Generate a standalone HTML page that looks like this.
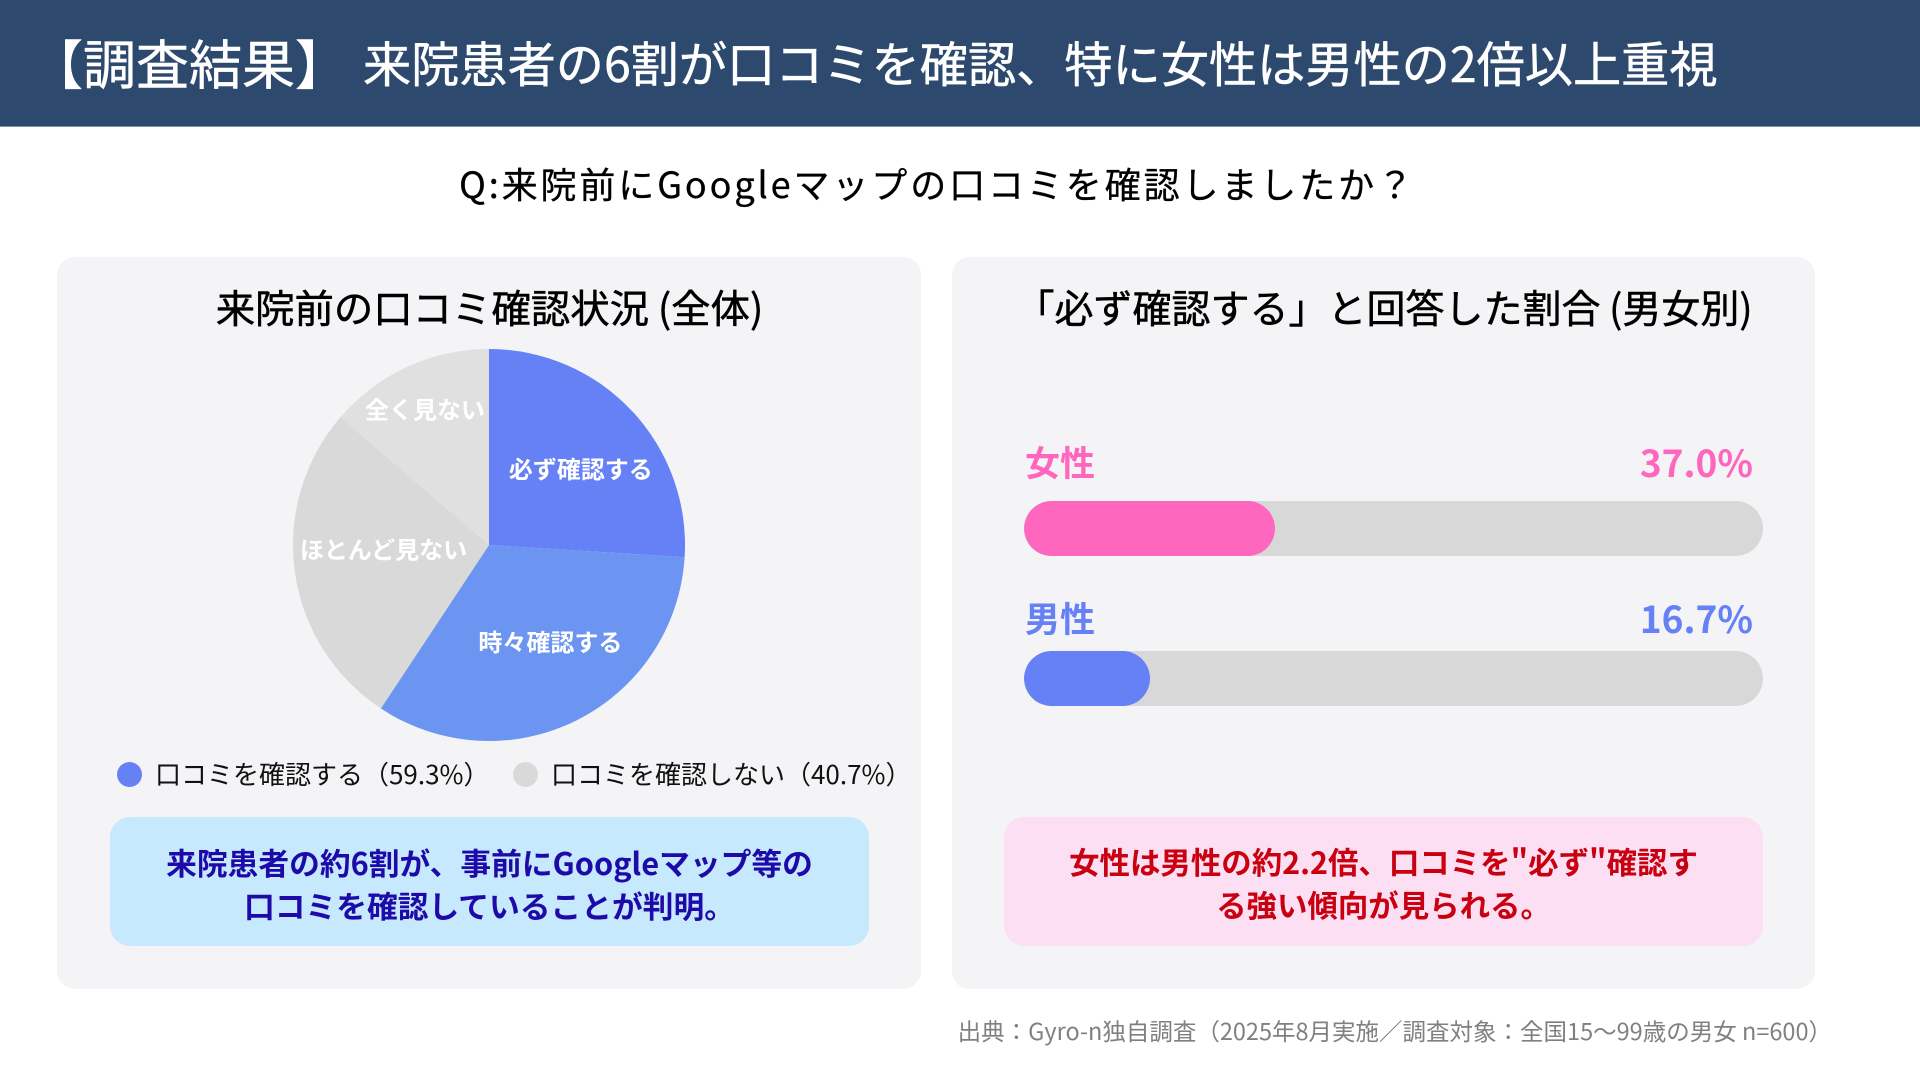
<!DOCTYPE html>
<html lang="ja">
<head>
<meta charset="utf-8">
<title>調査結果</title>
<style>
html,body{margin:0;padding:0;background:#fff}
body{width:1920px;height:1080px;overflow:hidden;position:relative;font-family:"Noto Sans CJK JP","Liberation Sans",sans-serif;color:#000}
.abs{position:absolute;white-space:nowrap}
.c{text-align:center}
#header{left:0;top:0;width:1920px;height:126px;background:#2d4a6e;border-bottom:1px solid #7f93ab}
.panel{position:absolute;top:257px;height:732px;background:#f4f4f7;border-radius:18px}
.track{position:absolute;height:55px;left:1024px;width:739px;background:#d8d8d8;border-radius:28px;overflow:hidden}
.fill{position:absolute;left:0;top:0;height:55px;border-radius:28px}
.note{position:absolute;top:817px;height:129px;border-radius:20px}
.notetext{font-weight:700;line-height:43px;text-align:center;left:0;right:0;top:23px;position:absolute}
.dot{position:absolute;width:25px;height:25px;border-radius:50%;top:762px}
.leg{font-size:26px;top:755px;line-height:37px;color:#111}
.medium{-webkit-text-stroke:.5px currentColor}
</style>
</head>
<body>
<div id="header" class="abs"></div>
<div class="abs medium" style="left:30px;top:26px;font-size:53px;line-height:72px;color:#fff">【調査結果】</div>
<div class="abs medium" style="left:363px;top:25.5px;font-size:48.2px;line-height:70px;color:#fff">来院患者の6割が口コミを確認、特に女性は男性の2倍以上重視</div>
<div class="abs c" style="left:0;width:1875px;top:157px;font-size:36px;line-height:52px;letter-spacing:2.9px;-webkit-text-stroke:.3px #000">Q:来院前にGoogleマップの口コミを確認しましたか？</div>

<div class="panel" style="left:57px;width:864px"></div>
<div class="panel" style="left:952px;width:863px"></div>

<div class="abs c medium" style="left:58px;width:863px;top:280.5px;font-size:39.4px;line-height:52px">来院前の口コミ確認状況 (全体)</div>
<div class="abs c medium" style="left:953px;width:862px;top:280.5px;font-size:39px;line-height:52px">「必ず確認する」と回答した割合 (男女別)</div>

<svg id="pie" class="abs" style="left:0;top:0" width="1920" height="1080"></svg>

<div class="dot" style="left:117px;background:#6680f5"></div>
<div class="abs leg" style="left:155px">口コミを確認する（59.3%）</div>
<div class="dot" style="left:513px;background:#d9d9d9"></div>
<div class="abs leg" style="left:551px">口コミを確認しない（40.7%）</div>

<div class="note" style="left:110px;width:759px;background:#c6e9fe">
  <div class="notetext" style="color:#1e0aa8;font-size:30.75px">来院患者の約6割が、事前にGoogleマップ等の<br>口コミを確認していることが判明。</div>
</div>
<div class="note" style="left:1004px;width:759px;background:#fddff3">
  <div class="notetext" style="color:#c8000f;font-size:30.45px">女性は男性の約2.2倍、口コミを"必ず"確認す<br>る強い傾向が見られる。</div>
</div>

<div id="bars"></div>

<div class="abs" style="right:88px;top:1013px;font-size:23.5px;line-height:34px;color:#808080">出典：Gyro-n独自調査（2025年8月実施／調査対象：全国15〜99歳の男女 n=600）</div>

<script>
const pieCategories = ['必ず確認する', '時々確認する', 'ほとんど見ない', '全く見ない'];
const pieValues = [26.0, 33.3, 27.0, 13.7];
const barCategories = ['女性', '男性'];
const barPrintedValues = ['37.0%', '16.7%'];
const barFillPercents = [33.9, 17.05];

const pieColors = ['#6680f5', '#6b95f0', '#d9d9d9', '#e0e0e0'];
const pieLabelNudgeX = [6, 9, 11, -15];
const pieLabelNudgeY = [3, -10, -13, -30];
const barColors = ['#ff66bd', '#6680f5'];
const barRows = [{labelTop: 437, trackTop: 501}, {labelTop: 593, trackTop: 651}];

const NS = 'http://www.w3.org/2000/svg';
const cx = 489, cy = 545, r = 196;
const total = pieValues.reduce((a, b) => a + b, 0);
const angleOf = v => v / total * 2 * Math.PI;
const px = (a, k) => cx + Math.sin(a) * r * k;
const py = (a, k) => cy - Math.cos(a) * r * k;

const pie = document.getElementById('pie');
let start = 0;
pieValues.forEach((v, i) => {
  const end = start + angleOf(v);
  const large = end - start > Math.PI ? 1 : 0;
  const p = document.createElementNS(NS, 'path');
  p.setAttribute('d', `M${cx} ${cy}L${px(start, 1)} ${py(start, 1)}A${r} ${r} 0 ${large} 1 ${px(end, 1)} ${py(end, 1)}Z`);
  p.setAttribute('fill', pieColors[i]);
  
  
  pie.appendChild(p);
  start = end;
});
start = 0;
pieValues.forEach((v, i) => {
  const mid = start + angleOf(v) / 2;
  const t = document.createElementNS(NS, 'text');
  t.setAttribute('x', px(mid, 0.6) + pieLabelNudgeX[i]);
  t.setAttribute('y', py(mid, 0.6) + pieLabelNudgeY[i]);
  t.setAttribute('text-anchor', 'middle');
  t.setAttribute('dominant-baseline', 'central');
  t.setAttribute('fill', '#fff');
  t.setAttribute('font-size', '24');
  t.setAttribute('font-weight', '700');
  t.textContent = pieCategories[i];
  
  
  pie.appendChild(t);
  start += angleOf(v);
});

const bars = document.getElementById('bars');
barCategories.forEach((name, i) => {
  const row = barRows[i];
  const label = document.createElement('div');
  label.className = 'abs';
  label.style.cssText = `left:1025px;top:${row.labelTop}px;font-size:35px;font-weight:700;line-height:50px;color:${barColors[i]}`;
  label.textContent = name;
  
  
  bars.appendChild(label);

  const val = document.createElement('div');
  val.className = 'abs';
  val.style.cssText = `right:167px;top:${row.labelTop - 1}px;font-size:37px;font-weight:700;line-height:50px;color:${barColors[i]}`;
  val.textContent = barPrintedValues[i];
  
  
  bars.appendChild(val);

  const track = document.createElement('div');
  track.className = 'track';
  track.style.top = row.trackTop + 'px';
  
  
  const fill = document.createElement('div');
  fill.className = 'fill';
  fill.style.width = barFillPercents[i] + '%';
  fill.style.background = barColors[i];
  
  
  track.appendChild(fill);
  bars.appendChild(track);
});
</script>
</body>
</html>
